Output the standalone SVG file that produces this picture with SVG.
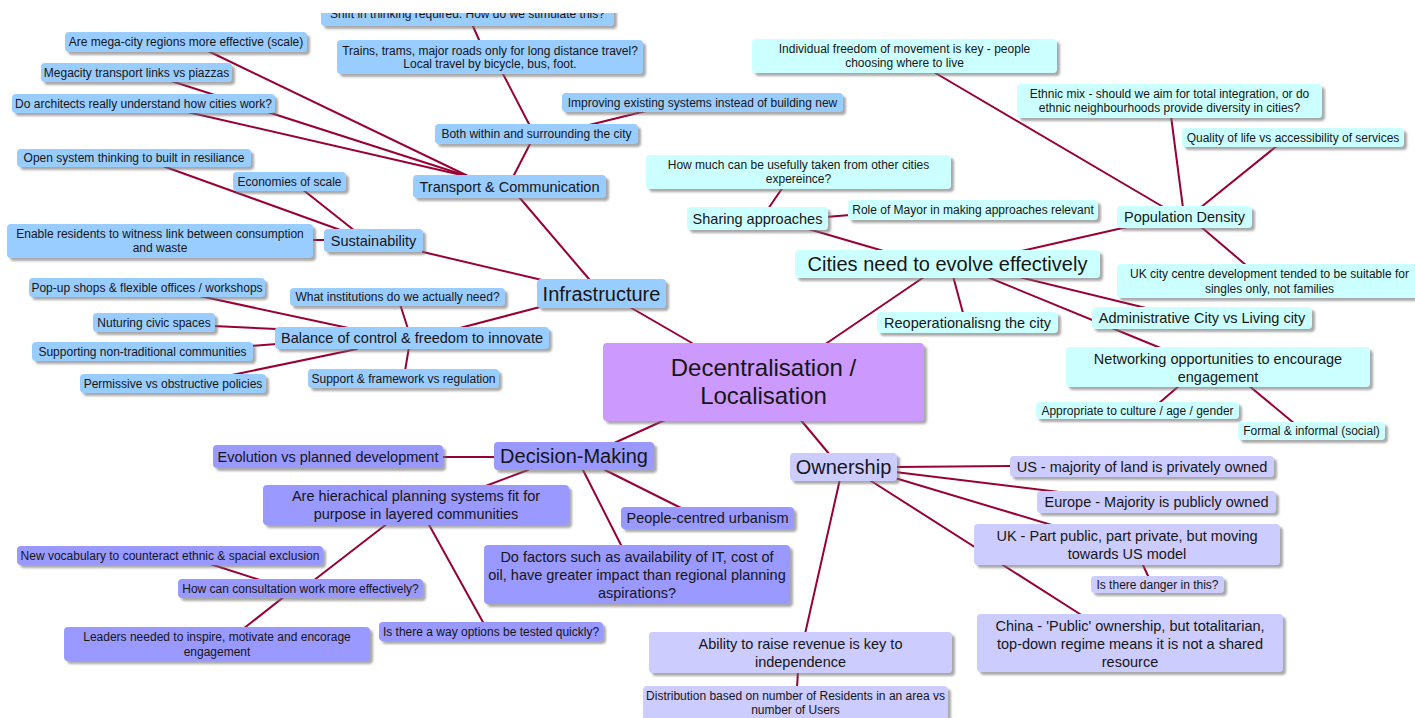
<svg xmlns="http://www.w3.org/2000/svg" width="1415" height="718" viewBox="0 0 1415 718">
  <style>
    text { font-family: "Liberation Sans", Arial, sans-serif; fill: #161616; text-anchor: middle; }
    .s { font-size: 12px; }
    .m { font-size: 14.5px; }
    .l { font-size: 20px; }
    .xl { font-size: 24px; }
    rect { filter: url(#sh); }
    .inf rect { fill: #99CCFF; }
    .cit rect { fill: #CCFFFF; }
    .dec rect { fill: #9999FF; }
    .own rect { fill: #CCCCFF; }
    .root rect { fill: #CC99FF; }
    #links path { stroke: #990033; stroke-width: 2; fill: none; stroke-linecap: round; }
  </style>
  <defs>
    <filter id="sh" x="-5%" y="-20%" width="115%" height="160%">
      <feDropShadow dx="3" dy="3" stdDeviation="1.2" flood-color="#6f6f6f" flood-opacity="0.6"/>
    </filter>
    <clipPath id="topcut"><rect x="0" y="13" width="1415" height="705"/></clipPath>
  </defs>
  <rect x="0" y="0" width="1415" height="718" fill="#ffffff" style="filter:none"/>

  <!-- connectors -->
  <g id="links">
    <!-- Infrastructure branch -->
    <path d="M692,343 L628,306"/>
    <path d="M589,279 L519,197"/>
    <path d="M542,280 L423,252"/>
    <path d="M540,307 L460,328"/>
    <path d="M470,177 L206,50"/>
    <path d="M470,177 L168,80"/>
    <path d="M470,177 L183,111"/>
    <path d="M513,177 L531,142"/>
    <path d="M530,126 L502,72"/>
    <path d="M480,42 L472,24"/>
    <path d="M585,126 L650,110"/>
    <path d="M343,231 L160,165"/>
    <path d="M355,231 L302,189"/>
    <path d="M326,240 L311,240"/>
    <path d="M353,329 L195,295"/>
    <path d="M277,329 L213,326"/>
    <path d="M277,344 L251,346"/>
    <path d="M357,349 L227,376"/>
    <path d="M408,329 L400,304"/>
    <path d="M409,347 L405,371"/>
    <!-- Cities branch -->
    <path d="M824,345 L924,277"/>
    <path d="M887,252 L805,228"/>
    <path d="M768,209 L783,187"/>
    <path d="M826,217 L850,215"/>
    <path d="M1017,252 L1127,227"/>
    <path d="M1165,208 L932,71"/>
    <path d="M1183,208 L1171,116"/>
    <path d="M1200,208 L1278,145"/>
    <path d="M1200,226 L1247,266"/>
    <path d="M963,313 L953,276"/>
    <path d="M1150,309 L1015,276"/>
    <path d="M1163,349 L985,276"/>
    <path d="M1180,385 L1158,404"/>
    <path d="M1248,385 L1295,424"/>
    <!-- Decision-Making branch -->
    <path d="M667,419 L612,444"/>
    <path d="M496,457 L441,457"/>
    <path d="M528,470 L483,487"/>
    <path d="M605,470 L683,509"/>
    <path d="M583,470 L622,547"/>
    <path d="M388,523 L313,581"/>
    <path d="M428,523 L484,624"/>
    <path d="M207,563 L263,581"/>
    <path d="M285,596 L243,629"/>
    <!-- Ownership branch -->
    <path d="M800,419 L830,455"/>
    <path d="M895,467 L1012,466"/>
    <path d="M895,472 L1067,493"/>
    <path d="M895,478 L1055,526"/>
    <path d="M868,479 L1083,616"/>
    <path d="M840,479 L805,634"/>
    <path d="M798,671 L797,688"/>
    <path d="M1142,563 L1149,578"/>
  </g>

  <!-- central topic -->
  <g id="root" class="root">
    <rect x="603" y="343" width="321" height="78" rx="4"/>
    <text class="xl" x="763.5" y="375.5">Decentralisation /</text>
    <text class="xl" x="763.5" y="403.5">Localisation</text>
  </g>

  <!-- Infrastructure -->
  <g id="n-shift" class="inf" clip-path="url(#topcut)">
    <rect x="321" y="3" width="293" height="23" rx="4"/>
    <text class="s" x="467.5" y="17.5">Shift in thinking required.  How do we stimulate this?</text>
  </g>
  <g id="n-trains" class="inf">
    <rect x="337" y="40" width="306" height="34" rx="4"/>
    <text class="s" x="490" y="55">Trains, trams, major roads only for long distance travel?</text>
    <text class="s" x="490" y="68">Local travel by bicycle, bus, foot.</text>
  </g>
  <g id="n-mega" class="inf">
    <rect x="65" y="32" width="242" height="20" rx="4"/>
    <text class="s" x="186" y="46">Are mega-city regions more effective (scale)</text>
  </g>
  <g id="n-megacity" class="inf">
    <rect x="41" y="63" width="191" height="19" rx="4"/>
    <text class="s" x="136.5" y="77">Megacity transport links vs piazzas</text>
  </g>
  <g id="n-architects" class="inf">
    <rect x="12" y="94" width="263" height="19" rx="4"/>
    <text class="s" x="143.5" y="108">Do architects really understand how cities work?</text>
  </g>
  <g id="n-both" class="inf">
    <rect x="435" y="124" width="203" height="20" rx="4"/>
    <text class="s" x="536.5" y="138">Both within and surrounding the city</text>
  </g>
  <g id="n-improving" class="inf">
    <rect x="562" y="93" width="281" height="19" rx="4"/>
    <text class="s" x="702.5" y="107">Improving existing systems instead of building new</text>
  </g>
  <g id="n-transport" class="inf">
    <rect x="413" y="175" width="193" height="23" rx="4"/>
    <text class="m" x="509.5" y="191.5">Transport &amp; Communication</text>
  </g>
  <g id="n-open" class="inf">
    <rect x="17" y="149" width="234" height="18" rx="4"/>
    <text class="s" x="134" y="162">Open system thinking to built in resiliance</text>
  </g>
  <g id="n-economies" class="inf">
    <rect x="233" y="172" width="113" height="19" rx="4"/>
    <text class="s" x="289.5" y="186">Economies of scale</text>
  </g>
  <g id="n-enable" class="inf">
    <rect x="7" y="224" width="306" height="34" rx="4"/>
    <text class="s" x="160" y="237.5">Enable residents to witness link between consumption</text>
    <text class="s" x="160" y="252">and waste</text>
  </g>
  <g id="n-sustainability" class="inf">
    <rect x="324" y="229" width="99" height="23" rx="4"/>
    <text class="m" x="373.5" y="245.5">Sustainability</text>
  </g>
  <g id="n-infrastructure" class="inf">
    <rect x="537" y="279" width="129" height="29" rx="4"/>
    <text class="l" x="601.5" y="300.5">Infrastructure</text>
  </g>
  <g id="n-popup" class="inf">
    <rect x="29" y="278" width="236" height="19" rx="4"/>
    <text class="s" x="147" y="292">Pop-up shops &amp; flexible offices / workshops</text>
  </g>
  <g id="n-institutions" class="inf">
    <rect x="290" y="288" width="215" height="18" rx="4"/>
    <text class="s" x="397.5" y="301">What institutions do we actually need?</text>
  </g>
  <g id="n-nuturing" class="inf">
    <rect x="93" y="313" width="122" height="19" rx="4"/>
    <text class="s" x="154" y="327">Nuturing civic spaces</text>
  </g>
  <g id="n-balance" class="inf">
    <rect x="275" y="327" width="274" height="22" rx="4"/>
    <text class="m" x="412" y="343">Balance of control &amp; freedom to innovate</text>
  </g>
  <g id="n-supporting" class="inf">
    <rect x="32" y="342" width="221" height="19" rx="4"/>
    <text class="s" x="142.5" y="356">Supporting non-traditional communities</text>
  </g>
  <g id="n-permissive" class="inf">
    <rect x="80" y="374" width="186" height="19" rx="4"/>
    <text class="s" x="173" y="388">Permissive vs obstructive policies</text>
  </g>
  <g id="n-framework" class="inf">
    <rect x="308" y="369" width="191" height="19" rx="4"/>
    <text class="s" x="403.5" y="383">Support &amp; framework vs regulation</text>
  </g>

  <!-- Cities need to evolve effectively -->
  <g id="n-individual" class="cit">
    <rect x="752" y="39" width="305" height="34" rx="4"/>
    <text class="s" x="904.5" y="53">Individual freedom of movement is key - people</text>
    <text class="s" x="904.5" y="67">choosing where to live</text>
  </g>
  <g id="n-ethnic" class="cit">
    <rect x="1017" y="84" width="305" height="34" rx="4"/>
    <text class="s" x="1169.5" y="97.5">Ethnic mix - should we aim for total integration, or do</text>
    <text class="s" x="1169.5" y="112">ethnic neighbourhoods provide diversity in cities?</text>
  </g>
  <g id="n-quality" class="cit">
    <rect x="1182" y="128" width="222" height="19" rx="4"/>
    <text class="s" x="1293" y="142">Quality of life vs accessibility of services</text>
  </g>
  <g id="n-howmuch" class="cit">
    <rect x="646" y="155" width="305" height="34" rx="4"/>
    <text class="s" x="798.5" y="168.5">How much can be usefully taken from other cities</text>
    <text class="s" x="798.5" y="183">expereince?</text>
  </g>
  <g id="n-sharing" class="cit">
    <rect x="687" y="207" width="141" height="23" rx="4"/>
    <text class="m" x="757.5" y="223.5">Sharing approaches</text>
  </g>
  <g id="n-mayor" class="cit">
    <rect x="848" y="200" width="250" height="20" rx="4"/>
    <text class="s" x="973" y="214">Role of Mayor in making approaches relevant</text>
  </g>
  <g id="n-density" class="cit">
    <rect x="1117" y="206" width="135" height="22" rx="4"/>
    <text class="m" x="1184.5" y="222">Population Density</text>
  </g>
  <g id="n-cities" class="cit">
    <rect x="795" y="250" width="305" height="28" rx="4"/>
    <text class="l" x="947.5" y="271">Cities need to evolve effectively</text>
  </g>
  <g id="n-ukcity" class="cit">
    <rect x="1117" y="264" width="305" height="34" rx="4"/>
    <text class="s" x="1269.5" y="278">UK city centre development tended to be suitable for</text>
    <text class="s" x="1269.5" y="293">singles only, not families</text>
  </g>
  <g id="n-reop" class="cit">
    <rect x="877" y="312" width="181" height="21" rx="4"/>
    <text class="m" x="967.5" y="327.5">Reoperationalisng the city</text>
  </g>
  <g id="n-admin" class="cit">
    <rect x="1092" y="307" width="220" height="22" rx="4"/>
    <text class="m" x="1202" y="323">Administrative City vs Living city</text>
  </g>
  <g id="n-networking" class="cit">
    <rect x="1066" y="347" width="304" height="40" rx="4"/>
    <text class="m" x="1218" y="364">Networking opportunities to encourage</text>
    <text class="m" x="1218" y="382">engagement</text>
  </g>
  <g id="n-appropriate" class="cit">
    <rect x="1036" y="402" width="203" height="17" rx="4"/>
    <text class="s" x="1137.5" y="415">Appropriate to culture / age / gender</text>
  </g>
  <g id="n-formal" class="cit">
    <rect x="1238" y="422" width="147" height="18" rx="4"/>
    <text class="s" x="1311.5" y="435">Formal &amp; informal (social)</text>
  </g>

  <!-- Decision-Making -->
  <g id="n-decision" class="dec">
    <rect x="494" y="442" width="160" height="28" rx="4"/>
    <text class="l" x="574" y="463">Decision-Making</text>
  </g>
  <g id="n-evolution" class="dec">
    <rect x="213" y="445" width="230" height="23" rx="4"/>
    <text class="m" x="328" y="461.5">Evolution vs planned development</text>
  </g>
  <g id="n-hierarchical" class="dec">
    <rect x="263" y="485" width="306" height="40" rx="4"/>
    <text class="m" x="416" y="501">Are hierachical planning systems fit for</text>
    <text class="m" x="416" y="519">purpose in layered communities</text>
  </g>
  <g id="n-people" class="dec">
    <rect x="621" y="507" width="173" height="22" rx="4"/>
    <text class="m" x="707.5" y="523">People-centred urbanism</text>
  </g>
  <g id="n-factors" class="dec">
    <rect x="484" y="545" width="306" height="59" rx="4"/>
    <text class="m" x="637" y="562">Do factors such as availability of IT, cost of</text>
    <text class="m" x="637" y="580">oil, have greater impact than regional planning</text>
    <text class="m" x="637" y="598">aspirations?</text>
  </g>
  <g id="n-vocabulary" class="dec">
    <rect x="17" y="546" width="306" height="19" rx="4"/>
    <text class="s" x="170" y="560">New vocabulary to counteract ethnic &amp; spacial exclusion</text>
  </g>
  <g id="n-consultation" class="dec">
    <rect x="178" y="579" width="245" height="19" rx="4"/>
    <text class="s" x="300.5" y="593">How can consultation work more effectively?</text>
  </g>
  <g id="n-leaders" class="dec">
    <rect x="64" y="627" width="306" height="34" rx="4"/>
    <text class="s" x="217" y="641">Leaders needed to inspire, motivate and encorage</text>
    <text class="s" x="217" y="656">engagement</text>
  </g>
  <g id="n-tested" class="dec">
    <rect x="379" y="622" width="224" height="19" rx="4"/>
    <text class="s" x="491" y="636">Is there a way options be tested quickly?</text>
  </g>

  <!-- Ownership -->
  <g id="n-ownership" class="own">
    <rect x="790" y="453" width="107" height="28" rx="4"/>
    <text class="l" x="843.5" y="474">Ownership</text>
  </g>
  <g id="n-us" class="own">
    <rect x="1010" y="456" width="264" height="21" rx="4"/>
    <text class="m" x="1142" y="471.5">US - majority of land is privately owned</text>
  </g>
  <g id="n-europe" class="own">
    <rect x="1037" y="491" width="239" height="22" rx="4"/>
    <text class="m" x="1156.5" y="507">Europe - Majority is publicly owned</text>
  </g>
  <g id="n-uk" class="own">
    <rect x="974" y="524" width="306" height="41" rx="4"/>
    <text class="m" x="1127" y="541">UK - Part public, part private, but moving</text>
    <text class="m" x="1127" y="559">towards US model</text>
  </g>
  <g id="n-danger" class="own">
    <rect x="1091" y="576" width="133" height="17" rx="4"/>
    <text class="s" x="1157.5" y="589">Is there danger in this?</text>
  </g>
  <g id="n-china" class="own">
    <rect x="977" y="614" width="306" height="58" rx="4"/>
    <text class="m" x="1130" y="631">China - 'Public' ownership, but totalitarian,</text>
    <text class="m" x="1130" y="649">top-down regime means it is not a shared</text>
    <text class="m" x="1130" y="667">resource</text>
  </g>
  <g id="n-revenue" class="own">
    <rect x="649" y="632" width="303" height="41" rx="4"/>
    <text class="m" x="800.5" y="649">Ability to raise revenue is key to</text>
    <text class="m" x="800.5" y="667">independence</text>
  </g>
  <g id="n-distribution" class="own">
    <rect x="643" y="686" width="305" height="36" rx="4"/>
    <text class="s" x="795.5" y="700">Distribution based on number of Residents in an area vs</text>
    <text class="s" x="795.5" y="714">number of Users</text>
  </g>
</svg>
